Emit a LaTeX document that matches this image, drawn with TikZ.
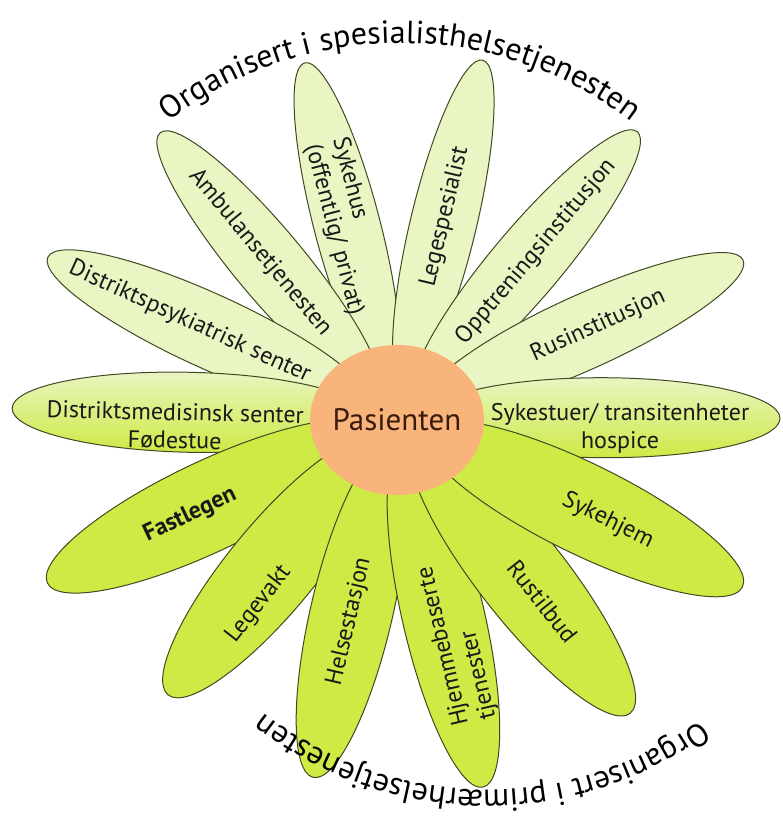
\documentclass[tikz,border=0pt]{standalone}
\usepackage{fontspec}
\setmainfont{PT Sans}
\usetikzlibrary{shapes.geometric,decorations.text,calc}

\definecolor{petalpale}{HTML}{E9F5C3}
\definecolor{petalgreen}{HTML}{CDEA45}
\definecolor{petalline}{HTML}{3F4A22}
\definecolor{heart}{HTML}{F8B47A}
\definecolor{heartink}{HTML}{3A1C0E}
\newcommand\curvefont{\fontsize{32}{32}\selectfont}

\tikzset{
	petal/.style={draw=petalline, line width=1pt, ellipse, inner sep=0pt},
	upper/.style={petal, fill=petalpale},
	lower/.style={petal, fill=petalgreen},
	middle/.style={petal, top color=petalpale, bottom color=petalgreen},
	word/.style={font=\fontsize{24}{28}\selectfont, text=black!90, inner sep=0pt},
}

\begin{document}
\begin{tikzpicture}[x=1pt, y=1pt]
	\useasboundingbox (-397,-415) rectangle (385,417);
	\coordinate (topc) at (3,-6);
	\coordinate (botc) at (90,-13);
	% petals, spesialisthelsetjenesten
	\node[upper, minimum width=336pt, minimum height=66pt, rotate=-75.4] (sykehus) at (104.6:198) {};
	\node[upper, minimum width=337pt, minimum height=66pt, rotate=76.5] (legespes) at (76.5:198.5) {};
	\node[upper, minimum width=340pt, minimum height=70pt, rotate=-50.2] (ambulanse) at (129.8:200) {};
	\node[upper, minimum width=343pt, minimum height=70pt, rotate=49.9] (opptrening) at (49.9:201.5) {};
	\node[upper, minimum width=354pt, minimum height=74pt, rotate=-24.6] (dps) at (155.4:207) {};
	\node[upper, minimum width=350pt, minimum height=74pt, rotate=24.4] (rus) at (24.4:205) {};
	\node[middle, minimum width=355pt, minimum height=80pt, rotate=-1.3] (dms) at (178.7:207.5) {};
	\node[middle, minimum width=353pt, minimum height=80pt, rotate=-0.2] (sykestuer) at (-0.2:206.5) {};
	% petals, primaerhelsetjenesten
	\node[lower, minimum width=357pt, minimum height=90pt, rotate=25.4] (fastlegen) at (205.4:208.5) {};
	\node[lower, minimum width=330pt, minimum height=88pt, rotate=50.5] (legevakt) at (230.5:195) {};
	\node[lower, minimum width=340pt, minimum height=82pt, rotate=76.9] (helsestasjon) at (256.9:200) {};
	\node[lower, minimum width=350pt, minimum height=82pt, rotate=-76.9] (hjemme) at (-76.9:205) {};
	\node[lower, minimum width=347pt, minimum height=88pt, rotate=-51.8] (rustilbud) at (-51.8:203.5) {};
	\node[lower, minimum width=355pt, minimum height=90pt, rotate=-26.2] (sykehjem) at (-26.2:207.5) {};
	% centre
	\node[ellipse, fill=heart, minimum width=174pt, minimum height=150pt,
		label={[text=heartink, font=\fontsize{31}{31}\selectfont]center:Pasienten}] (pasienten) at (0,-3) {};
	% labels
	\node[word, rotate=-75.4, align=left] (t-sykehus) at (104.6:197) {Sykehus\\(offentlig/ privat)};
	\node[word, rotate=76.5] (t-legespes) at (76.5:206) {Legespesialist};
	\node[word, rotate=-50.2] (t-ambulanse) at (129.8:214) {Ambulansetjenesten};
	\node[word, rotate=49.9] (t-opptrening) at (49.9:216) {Opptreningsinstitusjon};
	\node[word, rotate=-24.6] (t-dps) at (155.4:228) {Distriktspsykiatrisk senter};
	\node[word, rotate=24.4] (t-rus) at (24.4:221) {Rusinstitusjon};
	\node[word, rotate=-1.3, align=center] (t-dms) at (-222,-9) {Distriktsmedisinsk senter\\Fødestue};
	\node[word, align=center] (t-sykestuer) at (223,-11) {Sykestuer/ transitenheter\\hospice};
	\node[word, rotate=25.4, font=\fontsize{24}{28}\selectfont\bfseries] (t-fastlegen) at (205.4:229) {Fastlegen};
	\node[word, rotate=52] (t-legevakt) at (233.6:233) {Legevakt};
	\node[word, rotate=76.9] (t-helsestasjon) at (256.9:210) {Helsestasjon};
	\node[word, rotate=103.1, align=left] (t-hjemme) at (-75:234) {Hjemmebaserte\\tjenester};
	\node[word, rotate=-51.8] (t-rustilbud) at (-51.8:235) {Rustilbud};
	\node[word, rotate=-26.2] (t-sykehjem) at (-26.2:235) {Sykehjem};
	% curved headings
	\path[decorate, decoration={text along path, text align=center,
		text={|\curvefont|Organisert i spesialisthelsetjenesten}}]
		($(topc)+(132:380pt)$) arc[start angle=132, end angle=48, radius=380pt];
	\path[decorate, decoration={text along path, text align=center,
		text={|\curvefont|Organisert i primærhelsetjenesten}}]
		($(botc)+(-45:360pt)$) arc[start angle=-45, end angle=-137, radius=360pt];
\end{tikzpicture}
\end{document}
